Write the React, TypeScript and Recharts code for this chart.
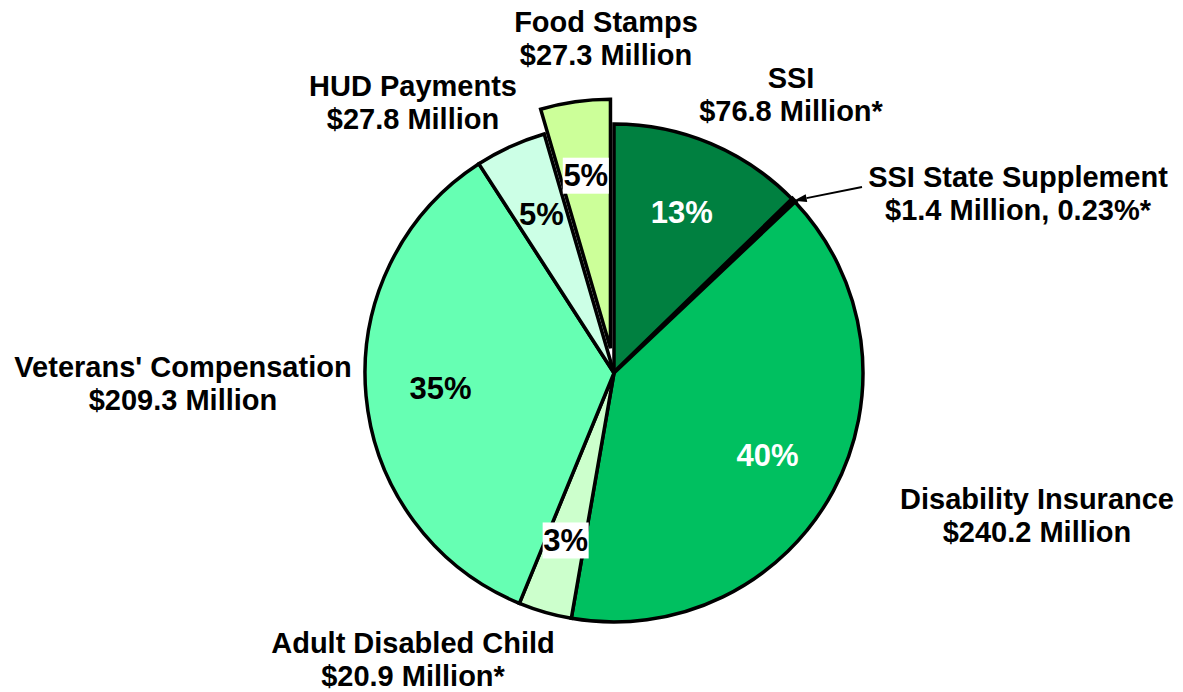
import { Cell, Pie, PieChart } from "recharts";

/* Income sources pie: slices clockwise from 12 o'clock, Food Stamps pulled out. */

const CATEGORIES = [
  "SSI",
  "SSI State Supplement",
  "Disability Insurance",
  "Adult Disabled Child",
  "Veterans' Compensation",
  "HUD Payments",
  "Food Stamps",
];
const AMOUNTS = [76.8, 1.4, 240.2, 20.9, 209.3, 27.8, 27.3];
const PCT_LABELS = ["13%", "", "40%", "3%", "35%", "5%", "5%"];
const AMOUNT_LABELS = [
  "$76.8 Million*",
  "$1.4 Million, 0.23%*",
  "$240.2 Million",
  "$20.9 Million*",
  "$209.3 Million",
  "$27.8 Million",
  "$27.3 Million",
];

const FILLS = ["#008040", "#000000", "#00C060", "#CCFFCC", "#66FFB3", "#CCFFE6", "#CCFF99"];
const PCT_COLORS = ["#ffffff", "#000", "#ffffff", "#000", "#000", "#000", "#000"];
const PCT_BOXED = [false, false, false, true, false, false, true];

// layout of the outside captions: centre x, first baseline
const CALLOUTS: [number, number][] = [
  [791, 88],
  [1018, 187],
  [1037, 509],
  [413, 653],
  [183, 377],
  [413, 96],
  [606, 32],
];
const ARROW_TAIL: [number, number] = [862, 187];

const W = 1183;
const H = 692;
const CX = 614;
const CY = 373;
const R = 249;
const EXPLODE = 25;
const EXPLODED = 6;
const STROKE = 3.5;
const FONT = "'Liberation Sans', Arial, sans-serif";
const RAD = Math.PI / 180;

const data = CATEGORIES.map((name, i) => ({ name, value: AMOUNTS[i] }));

const total = AMOUNTS.reduce((a, b) => a + b, 0);
const before = AMOUNTS.slice(0, EXPLODED).reduce((a, b) => a + b, 0);
const explodeMid = 90 - (360 * (before + AMOUNTS[EXPLODED] / 2)) / total;
const CX2 = CX + EXPLODE * Math.cos(explodeMid * RAD);
const CY2 = CY - EXPLODE * Math.sin(explodeMid * RAD);

function Callout({ index }: { index: number }) {
  const [x, y] = CALLOUTS[index];
  return (
    <text
      x={x}
      y={y}
      textAnchor="middle"
      fontFamily={FONT}
      fontWeight="bold"
      fontSize={29}
      fill="#000"
    >
      <tspan x={x} y={y}>
        {CATEGORIES[index]}
      </tspan>
      <tspan x={x} y={y + 33}>
        {AMOUNT_LABELS[index]}
      </tspan>
    </text>
  );
}

function renderLabel(props: any, exploded: boolean) {
  const { cx, cy, midAngle, outerRadius, index } = props;
  if ((index === EXPLODED) !== exploded) return null;
  const r = outerRadius * 0.7;
  const px = cx + r * Math.cos(-midAngle * RAD);
  const py = cy + r * Math.sin(-midAngle * RAD);
  const pct = PCT_LABELS[index];
  let arrow = null;
  if (index === 1) {
    const tx = cx + outerRadius * Math.cos(-midAngle * RAD);
    const ty = cy + outerRadius * Math.sin(-midAngle * RAD);
    const [ax, ay] = ARROW_TAIL;
    const len = Math.hypot(tx - ax, ty - ay);
    const ux = (tx - ax) / len;
    const uy = (ty - ay) / len;
    const bx = tx - ux * 13;
    const by = ty - uy * 13;
    arrow = (
      <g>
        <line x1={ax} y1={ay} x2={bx} y2={by} stroke="#000" strokeWidth={2} />
        <polygon
          points={`${tx},${ty} ${bx - uy * 4},${by + ux * 4} ${bx + uy * 4},${by - ux * 4}`}
          fill="#000"
        />
      </g>
    );
  }
  return (
    <g key={`lbl-${index}`}>
      {pct && PCT_BOXED[index] && (
        <rect x={px - 23} y={py - 18} width={46} height={36} fill="#ffffff" />
      )}
      {pct && (
        <text
          x={px}
          y={py}
          textAnchor="middle"
          dominantBaseline="central"
          fontFamily={FONT}
          fontWeight="bold"
          fontSize={31}
          fill={PCT_COLORS[index]}
        >
          {pct}
        </text>
      )}
      {arrow}
      <Callout index={index} />
    </g>
  );
}

export default function App() {
  return (
    <div style={{ position: "absolute", left: 0, top: 0, width: W, height: H, background: "#fff" }}>
      <PieChart width={W} height={H} margin={{ top: 0, right: 0, bottom: 0, left: 0 }}>
        <Pie
          data={data}
          dataKey="value"
          nameKey="name"
          cx={CX}
          cy={CY}
          outerRadius={R}
          startAngle={90}
          endAngle={-270}
          stroke="#000"
          strokeWidth={STROKE}
          labelLine={false}
          label={(p: any) => renderLabel(p, false)}
          isAnimationActive={false}
        >
          {data.map((d, i) => (
            <Cell
              key={d.name}
              fill={i === EXPLODED ? "none" : FILLS[i]}
              stroke={i === EXPLODED ? "none" : "#000"}
              strokeWidth={i === 1 ? STROKE + 1.5 : STROKE}
            />
          ))}
        </Pie>
        <Pie
          data={data}
          dataKey="value"
          nameKey="name"
          cx={CX2}
          cy={CY2}
          outerRadius={R}
          startAngle={90}
          endAngle={-270}
          strokeWidth={STROKE}
          labelLine={false}
          label={(p: any) => renderLabel(p, true)}
          isAnimationActive={false}
        >
          {data.map((d, i) => (
            <Cell
              key={d.name}
              fill={i === EXPLODED ? FILLS[i] : "none"}
              stroke={i === EXPLODED ? "#000" : "none"}
            />
          ))}
        </Pie>
      </PieChart>
    </div>
  );
}
